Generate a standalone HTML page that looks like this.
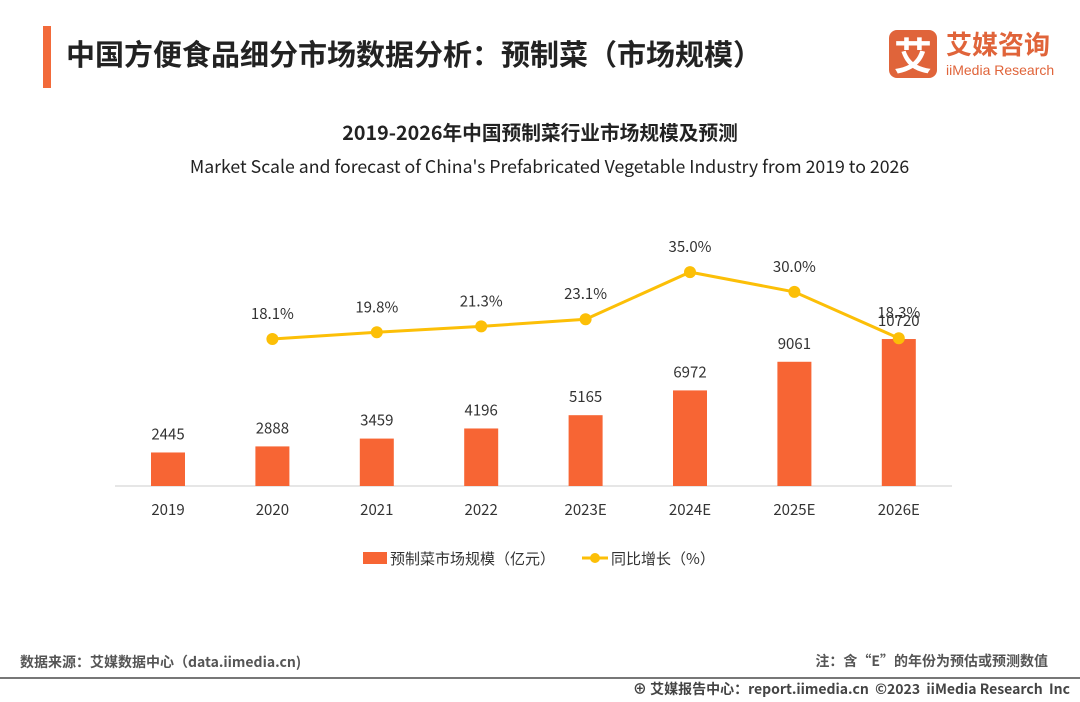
<!DOCTYPE html>
<html><head><meta charset="utf-8"><style>
body{margin:0;width:1080px;height:702px;background:#fff;font-family:"Noto Sans CJK SC",sans-serif;position:relative;overflow:hidden}
.abs{position:absolute}
</style></head><body>
<div class="abs" style="left:43px;top:26px;width:8px;height:62px;background:#f26a3a"></div>
<div class="abs" style="left:66px;top:32px;font-size:29px;font-weight:bold;color:#222;font-family:'Noto Sans CJK SC',sans-serif">中国方便食品细分市场数据分析：预制菜（市场规模）</div>
<div class="abs" style="left:889px;top:30px;width:48px;height:48px;background:#e0643a;border-radius:8px;color:#fff;font-size:38px;font-weight:bold;text-align:center;line-height:48px;font-family:'Noto Sans CJK SC',sans-serif">艾</div>
<div class="abs" style="left:946px;top:28px;font-size:26px;font-weight:bold;color:#e0643a;font-family:'Noto Sans CJK SC',sans-serif;line-height:32px">艾媒咨询</div>
<div class="abs" style="left:946px;top:62px;font-size:14px;color:#e0643a;line-height:16px;font-family:'Liberation Sans',sans-serif">iiMedia Research</div>
<div class="abs" style="left:0;width:1080px;text-align:center;top:117px;font-size:19.7px;font-weight:bold;color:#222">2019-2026年中国预制菜行业市场规模及预测</div>
<div class="abs" style="left:0;width:1099px;text-align:center;top:153px;font-size:17.7px;color:#222">Market Scale and forecast of China's Prefabricated Vegetable Industry from 2019 to 2026</div>
<svg class="abs" style="left:0;top:0;font-family:'Noto Sans CJK SC',sans-serif" width="1080" height="702" id="chart"></svg>
<div class="abs" style="left:20px;top:652px;font-size:14px;font-weight:bold;color:#555">数据来源：艾媒数据中心（data.iimedia.cn)</div>
<div class="abs" style="right:32px;top:651px;font-size:14px;font-weight:bold;color:#555">注：含“E”的年份为预估或预测数值</div>
<div class="abs" style="left:0;top:677px;width:1080px;height:2px;background:#777"></div>
<div class="abs" style="right:10px;top:679px;font-size:14px;font-weight:bold;color:#444">⊕ 艾媒报告中心：report.iimedia.cn &nbsp;©2023 &nbsp;iiMedia Research &nbsp;Inc</div>
<script>
const categories=["2019","2020","2021","2022","2023E","2024E","2025E","2026E"];
const marketValues=[2445,2888,3459,4196,5165,6972,9061,10720];
const growthValues=[null,18.1,19.8,21.3,23.1,35.0,30.0,18.3];
const svg=document.getElementById('chart');const NS='http://www.w3.org/2000/svg';
const x=i=>168+i*104.4;
const yBar=v=>486-v*0.01371;
const yLine=p=>410.7-p*3.96;
function mk(t,a,txt){const e=document.createElementNS(NS,t);for(const k in a)e.setAttribute(k,a[k]);if(txt!=null)e.textContent=txt;svg.appendChild(e);return e;}
let ax=mk('line',{x1:115,x2:952,y1:486,y2:486,stroke:'#ccc','stroke-width':1});


categories.forEach((c,i)=>{
 const b=mk('rect',{x:x(i)-17,y:yBar(marketValues[i]),width:34,height:486-yBar(marketValues[i]),fill:'#f76534'});
 
 
 const t=mk('text',{x:x(i),y:yBar(marketValues[i])-13,'text-anchor':'middle','font-size':15,fill:'#333'},marketValues[i]);
 
 
 const l=mk('text',{x:x(i),y:515,'text-anchor':'middle','font-size':15,fill:'#333'},c);
 
 
});
const pts=[];growthValues.forEach((g,i)=>{if(g!=null)pts.push([x(i),yLine(g),g,i]);});
const pl=mk('polyline',{points:pts.map(p=>p[0]+','+p[1]).join(' '),fill:'none',stroke:'#fcbf07','stroke-width':3});


pts.forEach(p=>{
 const c=mk('circle',{cx:p[0],cy:p[1],r:6,fill:'#fcbf07'});
 
 
 const t=mk('text',{x:p[0],y:p[1]-20,'text-anchor':'middle','font-size':15,fill:'#333'},p[2].toFixed(1)+'%');
 
 
});
const lg1=mk('rect',{x:363,y:552,width:24,height:12,fill:'#f76534'});


const lt1=mk('text',{x:390,y:564,'font-size':15,fill:'#333'},'预制菜市场规模（亿元）');


const lg2=mk('line',{x1:582,x2:608,y1:558,y2:558,stroke:'#fcbf07','stroke-width':3});


const lc=mk('circle',{cx:595,cy:558,r:5,fill:'#fcbf07'});


const lt2=mk('text',{x:611,y:564,'font-size':15,fill:'#333'},'同比增长（%）');


</script>
</body></html>
